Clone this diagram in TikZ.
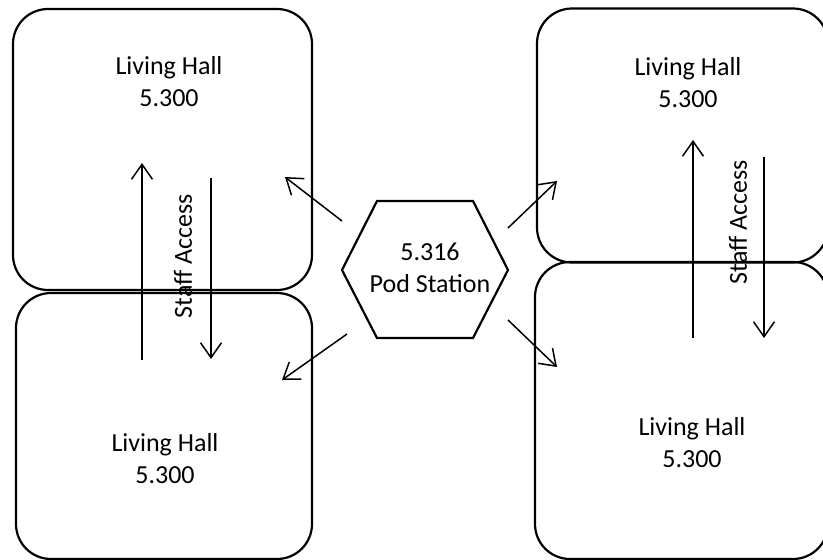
\documentclass[tikz,border=0pt]{standalone}
\usepackage{fontspec}
\setmainfont{Carlito}
\usetikzlibrary{arrows.meta}
\begin{document}
\begin{tikzpicture}[x=1pt,y=-1pt,
  hall/.style={draw, line width=2.2pt, rounded corners=35pt, inner sep=0pt},
  label/.style={align=center, font=\fontsize{26}{32}\selectfont, inner sep=0pt},
  link/.style={line width=1.5pt, -{Straight Barb[length=15pt,width=21pt,line width=1.5pt]}},
  hexline/.style={line width=2.2pt, line join=miter}]
\useasboundingbox (0,0) rectangle (823,560);

% the four living halls
\node[hall, minimum width=299pt, minimum height=281pt] (hallA) at (162.5,149.5) {};
\node[hall, minimum width=296pt, minimum height=266pt] (hallB) at (164,426) {};
\node[hall, minimum width=291pt, minimum height=254pt] (hallC) at (682.5,135.5) {};
\node[hall, minimum width=293pt, minimum height=297pt] (hallD) at (681.5,410.5) {};

\node[label] (tA) at (169,81.5) {Living Hall\\5.300};
\node[label] (tB) at (165,458.5) {Living Hall\\5.300};
\node[label] (tC) at (688,82.5) {Living Hall\\5.300};
\node[label] (tD) at (692,443) {Living Hall\\5.300};

% central pod station
\coordinate (hexc) at (425,270);
\draw[hexline, shift={(hexc)}] (-83,0) -- (-48,-69) -- (48,-69) -- (83,0) -- (48,68) -- (-48,68) -- cycle;
\node[label] (pod) at (430,268) {5.316\\Pod Station};

% links from the pod to each hall
\coordinate (pA) at (342,221);
\coordinate (pB) at (347,334);
\coordinate (pC) at (508,228);
\coordinate (pD) at (508,320);
\coordinate (eA) at (285,177);
\coordinate (eB) at (282,380);
\coordinate (eC) at (557,181);
\coordinate (eD) at (557,367);
\draw[link] (pA) -- (eA);
\draw[link] (pB) -- (eB);
\draw[link] (pC) -- (eC);
\draw[link] (pD) -- (eD);

% staff access, left pair of halls
\coordinate (lu0) at (142,360);
\coordinate (lu1) at (142,163);
\coordinate (ld0) at (211,178);
\coordinate (ld1) at (211,359);
\draw[link, line width=2pt] (lu0) -- (lu1);
\draw[link] (ld0) -- (ld1);
\node[label, rotate=90] (staffL) at (183,256) {Staff Access};

% staff access, right pair of halls
\coordinate (ru0) at (693,338);
\coordinate (ru1) at (693,140);
\coordinate (rd0) at (764,157);
\coordinate (rd1) at (764,338);
\draw[link] (ru0) -- (ru1);
\draw[link] (rd0) -- (rd1);
\node[label, rotate=90] (staffR) at (738,222) {Staff Access};
\end{tikzpicture}
\end{document}
